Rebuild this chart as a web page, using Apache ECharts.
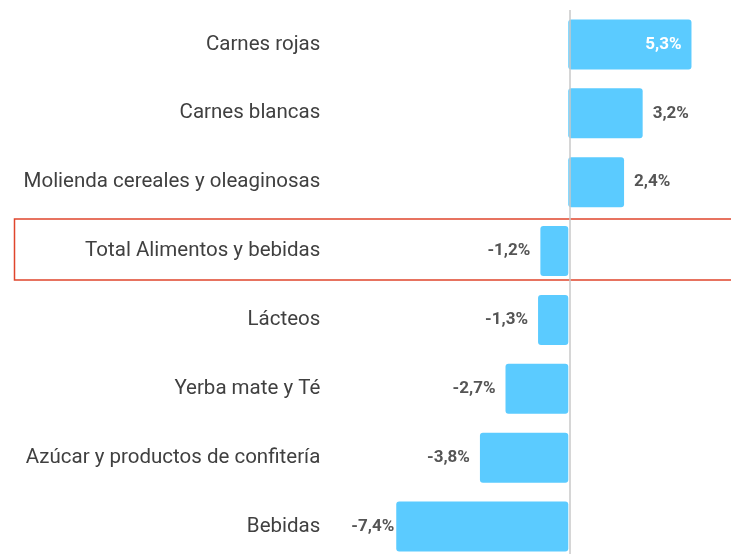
<!DOCTYPE html>
<html><head><meta charset="utf-8">
<script src="https://cdn.jsdelivr.net/npm/echarts@6/dist/echarts.min.js"></script>
<style>html,body{margin:0;padding:0;background:#fff;overflow:hidden;width:731px;height:554px}#c{width:731px;height:580px}</style>
</head><body><div id="c"></div>
<script>
const categories = ["Carnes rojas","Carnes blancas","Molienda cereales y oleaginosas","Total Alimentos y bebidas","Lácteos","Yerba mate y Té","Azúcar y productos de confitería","Bebidas"];
const values = [5.3, 3.2, 2.4, -1.2, -1.3, -2.7, -3.8, -7.4];

const fmt = v => v.toFixed(1).replace('.', ',') + '%';
const chart = echarts.init(document.getElementById('c'), null, {renderer:'canvas'});
const data = values.map((v, i) => ({
  value: v,
  label: {
    show: true,
    position: i === 0 ? 'insideRight' : (v >= 0 ? 'right' : 'left'),
    color: i === 0 ? '#ffffff' : '#555555',
    distance: v < -7 ? 2 : 10
  }
}));
chart.setOption({
  animation: false,
  grid: {left: 382.3, width: 351, top: 10, height: 551, containLabel: false},
  xAxis: {type: 'value', min: -8, max: 7, show: false},
  yAxis: {
    type: 'category', data: categories, inverse: true,
    axisLine: {show: false, onZero: false}, axisTick: {show: false},
    axisLabel: {margin: 62, color: '#404040', fontSize: 20.5, fontFamily: 'Roboto'}
  },
  series: [{
    type: 'bar', data: data, barWidth: 50,
    itemStyle: {color: '#5BCBFF', borderRadius: 3},
    label: {fontFamily: 'Roboto', fontWeight: 'bold', fontSize: 17, formatter: p => fmt(p.value)},
    markLine: {
      silent: true, symbol: 'none', label: {show: false}, z: 10,
      lineStyle: {color: '#c8c8c8', type: 'solid', width: 1.5},
      data: [{xAxis: 0.06}]
    },
    z: 3
  }],
  graphic: [{
    type: 'rect', left: 12, top: 216.5, z: 10,
    shape: {width: 730, height: 61},
    style: {fill: 'none', stroke: '#E0452C', lineWidth: 1.5}
  }]
});
</script></body></html>
